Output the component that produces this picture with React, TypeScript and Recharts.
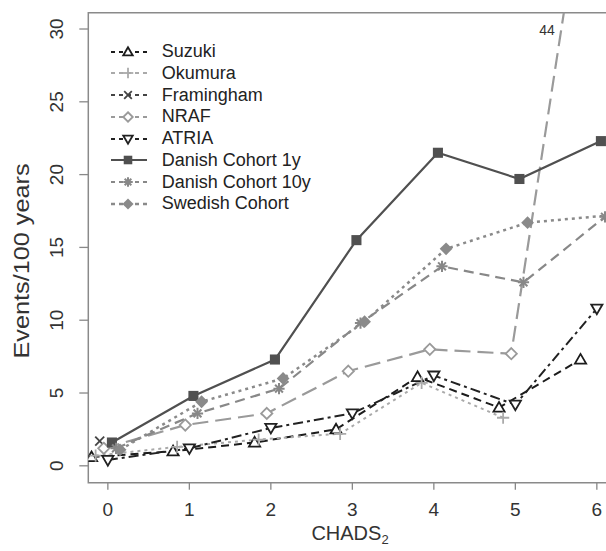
import React from 'react';
import { LineChart, Line, XAxis, YAxis, ReferenceArea, ReferenceDot, Legend } from 'recharts';

const FONT = '"Liberation Sans", Arial, Helvetica, sans-serif';

const xTicks = [0, 1, 2, 3, 4, 5, 6];
const yTicks = [0, 5, 10, 15, 20, 25, 30];

// x positions are slightly jittered per study, as in the original figure
const suzukiX = [-0.2, 0.8, 1.8, 2.8, 3.8, 4.8, 5.8];
const suzukiY = [0.6, 1.0, 1.6, 2.5, 6.1, 4.0, 7.3];
const okumuraX = [-0.15, 0.85, 1.85, 2.85, 3.85, 4.85];
const okumuraY = [0.7, 1.3, 1.8, 2.2, 5.7, 3.3];
const framinghamX = [-0.1];
const framinghamY = [1.7];
const nrafX = [-0.05, 0.95, 1.95, 2.95, 3.95, 4.95, 5.95];
const nrafY = [1.2, 2.8, 3.6, 6.5, 8.0, 7.7, 44];
const atriaX = [0, 1, 2, 3, 4, 5, 6];
const atriaY = [0.4, 1.2, 2.6, 3.6, 6.2, 4.2, 10.8];
const danish1X = [0.05, 1.05, 2.05, 3.05, 4.05, 5.05, 6.05];
const danish1Y = [1.6, 4.8, 7.3, 15.5, 21.5, 19.7, 22.3];
const danish10X = [0.1, 1.1, 2.1, 3.1, 4.1, 5.1, 6.1];
const danish10Y = [1.2, 3.6, 5.3, 9.8, 13.7, 12.6, 17.1];
const swedishX = [0.15, 1.15, 2.15, 3.15, 4.15, 5.15, 6.15];
const swedishY = [1.1, 4.4, 6.0, 9.9, 14.9, 16.7, 17.2];

const offscaleLabel = '44';
const offscaleLabelPos = { x: 5.39, y: 29.95 };

type Shape = 'triUp' | 'triDown' | 'plus' | 'cross' | 'diamondOpen' | 'square' | 'star' | 'diamondFilled';

interface SeriesDef {
  name: string;
  xs: number[];
  ys: number[];
  color: string;
  dash?: string;
  width: number;
  shape: Shape;
}

const series: SeriesDef[] = [
  { name: 'Suzuki', xs: suzukiX, ys: suzukiY, color: '#1c1c1c', dash: '8 5', width: 2, shape: 'triUp' },
  { name: 'Okumura', xs: okumuraX, ys: okumuraY, color: '#aaaaaa', dash: '3 4', width: 2, shape: 'plus' },
  { name: 'Framingham', xs: framinghamX, ys: framinghamY, color: '#444444', dash: '5 3', width: 2, shape: 'cross' },
  { name: 'NRAF', xs: nrafX, ys: nrafY, color: '#9a9a9a', dash: '16 7', width: 2.2, shape: 'diamondOpen' },
  { name: 'ATRIA', xs: atriaX, ys: atriaY, color: '#222222', dash: '10 4 3 4', width: 2, shape: 'triDown' },
  { name: 'Danish Cohort 1y', xs: danish1X, ys: danish1Y, color: '#505050', width: 2.2, shape: 'square' },
  { name: 'Danish Cohort 10y', xs: danish10X, ys: danish10Y, color: '#888888', dash: '10 6', width: 2.2, shape: 'star' },
  { name: 'Swedish Cohort', xs: swedishX, ys: swedishY, color: '#8a8a8a', dash: '3 4', width: 2.5, shape: 'diamondFilled' },
];

const toData = (xs: number[], ys: number[]) => xs.map((x, i) => ({ x, y: ys[i] }));

function Marker({ cx, cy, shape, color, k = 1 }: { cx: number; cy: number; shape: Shape; color: string; k?: number }) {
  if (cx == null || cy == null || isNaN(cx) || isNaN(cy)) return null;
  const sw = 1.8;
  const a = 5.6 * k;
  switch (shape) {
    case 'triUp':
      return <polygon points={`${cx},${cy - a} ${cx - a},${cy + a * 0.72} ${cx + a},${cy + a * 0.72}`} fill="#fff" stroke={color} strokeWidth={sw} />;
    case 'triDown':
      return <polygon points={`${cx - a},${cy - a * 0.72} ${cx + a},${cy - a * 0.72} ${cx},${cy + a}`} fill="#fff" stroke={color} strokeWidth={sw} />;
    case 'plus':
      return (
        <g stroke={color} strokeWidth={sw}>
          <line x1={cx - a - 0.5} y1={cy} x2={cx + a + 0.5} y2={cy} />
          <line x1={cx} y1={cy - a - 0.5} x2={cx} y2={cy + a + 0.5} />
        </g>
      );
    case 'cross':
      return (
        <g stroke={color} strokeWidth={sw}>
          <line x1={cx - a * 0.8} y1={cy - a * 0.8} x2={cx + a * 0.8} y2={cy + a * 0.8} />
          <line x1={cx - a * 0.8} y1={cy + a * 0.8} x2={cx + a * 0.8} y2={cy - a * 0.8} />
        </g>
      );
    case 'diamondOpen':
      return <polygon points={`${cx},${cy - a} ${cx + a},${cy} ${cx},${cy + a} ${cx - a},${cy}`} fill="#fff" stroke={color} strokeWidth={sw} />;
    case 'square':
      return <rect x={cx - a * 0.9} y={cy - a * 0.9} width={a * 1.8} height={a * 1.8} fill={color} />;
    case 'star':
      return (
        <g stroke={color} strokeWidth={2}>
          <line x1={cx - a} y1={cy} x2={cx + a} y2={cy} />
          <line x1={cx} y1={cy - a} x2={cx} y2={cy + a} />
          <line x1={cx - a * 0.7} y1={cy - a * 0.7} x2={cx + a * 0.7} y2={cy + a * 0.7} />
          <line x1={cx - a * 0.7} y1={cy + a * 0.7} x2={cx + a * 0.7} y2={cy - a * 0.7} />
        </g>
      );
    case 'diamondFilled':
      return <polygon points={`${cx},${cy - a - 0.8} ${cx + a + 0.8},${cy} ${cx},${cy + a + 0.8} ${cx - a - 0.8},${cy}`} fill={color} />;
  }
  return null;
}

const XTick = (props: any) => {
  const { x, payload } = props;
  return (
    <text x={x} y={509} textAnchor="middle" dominantBaseline="central" fontFamily={FONT} fontSize={19} fill="#333">
      {payload.value}
    </text>
  );
};

const YTick = (props: any) => {
  const { y, payload } = props;
  return (
    <text
      x={57}
      y={y}
      transform={`rotate(-90, 57, ${y})`}
      textAnchor="middle"
      dominantBaseline="central"
      fontFamily={FONT}
      fontSize={19}
      fill="#333"
    >
      {payload.value}
    </text>
  );
};

const renderLegend = () => (
  <div style={{ fontFamily: FONT, fontSize: 18, color: '#222' }}>
    {series.map((s) => (
      <div key={s.name} style={{ display: 'flex', alignItems: 'center', height: 21.75 }}>
        <svg width={36} height={20} style={{ marginRight: 14.7, overflow: 'visible' }}>
          <line x1={0} y1={10} x2={36} y2={10} stroke={s.color} strokeWidth={s.width} strokeDasharray={s.dash ? '4 4' : undefined} />
          <Marker cx={17} cy={10} shape={s.shape} color={s.color} k={0.85} />
        </svg>
        <span style={{ whiteSpace: 'nowrap' }}>{s.name}</span>
      </div>
    ))}
  </div>
);

export default function App() {
  return (
    <div style={{ position: 'fixed', left: 0, top: 0, width: 606, height: 551, overflow: 'hidden', background: '#fff' }}>
      <LineChart width={620} height={551} margin={{ top: 12.7, right: 3.6, left: 0, bottom: 0 }}>
        <XAxis
          dataKey="x"
          type="number"
          domain={[-0.24, 6.24]}
          ticks={xTicks}
          allowDataOverflow
          axisLine={false}
          tickLine={{ stroke: '#888', strokeWidth: 1.3 }}
          tickSize={7}
          height={68.3}
          tick={<XTick />}
          label={{
            content: () => (
              <text x={350} y={540} textAnchor="middle" fontFamily={FONT} fontSize={20} fill="#333">
                CHADS
                <tspan fontSize={13} dy={4}>2</tspan>
              </text>
            ),
          }}
        />
        <YAxis
          dataKey="y"
          type="number"
          domain={[-1.16, 31.12]}
          ticks={yTicks}
          allowDataOverflow
          axisLine={false}
          tickLine={{ stroke: '#888', strokeWidth: 1.3 }}
          tickSize={9}
          width={88.3}
          tick={<YTick />}
          label={{
            content: () => (
              <text
                x={28.5}
                y={261}
                transform="rotate(-90, 28.5, 261)"
                textAnchor="middle"
                fontFamily={FONT}
                fontSize={22}
                fill="#333"
                textLength={195}
                lengthAdjust="spacingAndGlyphs"
              >
                Events/100 years
              </text>
            ),
          }}
        />
        <ReferenceArea
          x1={-0.24}
          x2={6.24}
          y1={-1.16}
          y2={31.12}
          fill="none"
          fillOpacity={0}
          stroke="#8a8a8a"
          strokeWidth={1.5}
          ifOverflow="visible"
        />
        {series.map((s) => (
          <Line
            key={s.name}
            name={s.name}
            data={toData(s.xs, s.ys)}
            dataKey="y"
            type="linear"
            stroke={s.color}
            strokeWidth={s.width}
            strokeDasharray={s.dash}
            isAnimationActive={false}
            dot={(p: any) => (
              <Marker key={`${s.name}-${p.index}`} cx={p.cx} cy={p.cy} shape={s.shape} color={s.color} />
            )}
            activeDot={false}
          />
        ))}
        <ReferenceDot
          x={offscaleLabelPos.x}
          y={offscaleLabelPos.y}
          r={0}
          ifOverflow="visible"
          shape={(p: any) => (
            <text x={p.cx} y={p.cy} textAnchor="middle" dominantBaseline="central" fontFamily={FONT} fontSize={14} fill="#333">
              {offscaleLabel}
            </text>
          )}
        />
        <Legend
          layout="vertical"
          align="center"
          verticalAlign="middle"
          content={renderLegend}
          wrapperStyle={{ left: 111, top: 40.8, width: 'auto', height: 'auto' }}
        />
      </LineChart>
    </div>
  );
}
